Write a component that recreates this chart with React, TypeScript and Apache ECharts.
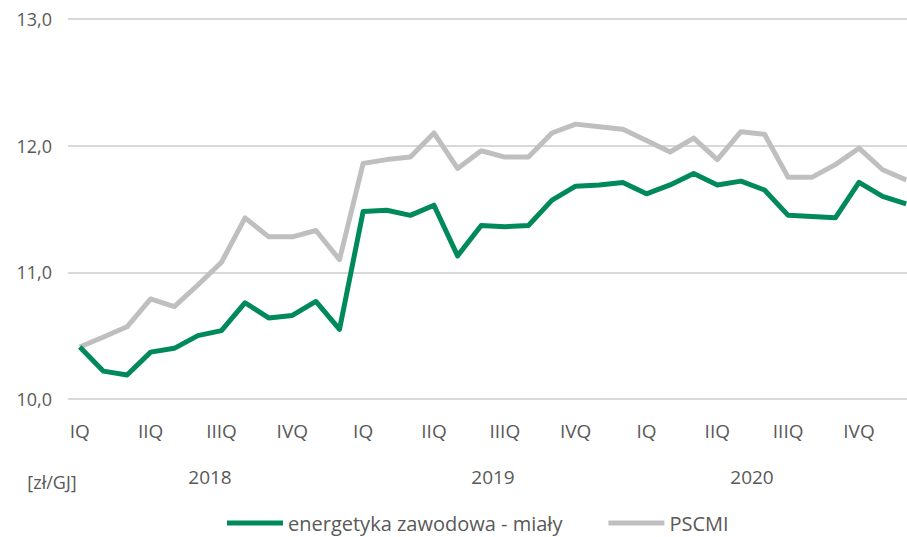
import React, { useEffect, useRef } from "react";
import * as echarts from "echarts";

const months: string[] = [
  "2018-01","2018-02","2018-03","2018-04","2018-05","2018-06","2018-07","2018-08","2018-09","2018-10","2018-11","2018-12",
  "2019-01","2019-02","2019-03","2019-04","2019-05","2019-06","2019-07","2019-08","2019-09","2019-10","2019-11","2019-12",
  "2020-01","2020-02","2020-03","2020-04","2020-05","2020-06","2020-07","2020-08","2020-09","2020-10","2020-11","2020-12",
];
const quarterLabels = ["IQ", "IIQ", "IIIQ", "IVQ"];
const years = ["2018", "2019", "2020"];

const energetyka: number[] = [
  10.41, 10.22, 10.19, 10.37, 10.40, 10.50, 10.54, 10.76, 10.64, 10.66, 10.77, 10.55,
  11.48, 11.49, 11.45, 11.53, 11.13, 11.37, 11.36, 11.37, 11.57, 11.68, 11.69, 11.71,
  11.62, 11.69, 11.78, 11.69, 11.72, 11.65, 11.45, 11.44, 11.43, 11.71, 11.60, 11.54,
];
const pscmi: number[] = [
  10.41, 10.49, 10.57, 10.79, 10.73, 10.90, 11.08, 11.43, 11.28, 11.28, 11.33, 11.10,
  11.86, 11.89, 11.91, 12.10, 11.82, 11.96, 11.91, 11.91, 12.10, 12.17, 12.15, 12.13,
  12.04, 11.95, 12.06, 11.89, 12.11, 12.09, 11.75, 11.75, 11.85, 11.98, 11.81, 11.73,
];

const FONT = "'Open Sans', sans-serif";
const TXT = "#595959";

export default function App() {
  const ref = useRef<HTMLDivElement>(null);
  useEffect(() => {
    if (!ref.current) return;
    const chart = echarts.init(ref.current, undefined, { renderer: "svg" });
    chart.setOption({
      animation: false,
      backgroundColor: "#ffffff",
      textStyle: { fontFamily: FONT },
      grid: { left: 68, top: 19, width: 850, bottom: 138, containLabel: false, outerBoundsMode: "none" },
      legend: {
        left: 222,
        top: 508,
        itemWidth: 56,
        itemHeight: 5,
        itemGap: 46,
        icon: "rect",
        textStyle: { fontFamily: FONT, fontSize: 20, color: TXT },
        data: ["energetyka zawodowa - miały", "PSCMI"],
      },
      xAxis: {
        type: "category",
        data: months,
        boundaryGap: true,
        axisLine: { show: false },
        axisTick: { show: false },
        axisLabel: {
          interval: 2,
          margin: 22,
          fontFamily: FONT,
          fontSize: 19,
          color: TXT,
          formatter: (_v: string, i: number) => quarterLabels[Math.floor(i / 3) % 4],
        },
      },
      yAxis: {
        type: "value",
        min: 10,
        max: 13,
        interval: 1,
        axisLine: { show: false },
        axisTick: { show: false },
        splitLine: { lineStyle: { color: "#D9D9D9", width: 2 } },
        axisLabel: {
          margin: 16,
          fontFamily: FONT,
          fontSize: 18,
          color: TXT,
          formatter: (v: number) => v.toFixed(1).replace(".", ","),
        },
      },
      graphic: [
        { type: "text", x: 210, y: 477, style: { text: years[0], font: `19px ${FONT}`, fill: TXT, textAlign: "center", textVerticalAlign: "middle" } },
        { type: "text", x: 493, y: 477, style: { text: years[1], font: `19px ${FONT}`, fill: TXT, textAlign: "center", textVerticalAlign: "middle" } },
        { type: "text", x: 752, y: 477, style: { text: years[2], font: `19px ${FONT}`, fill: TXT, textAlign: "center", textVerticalAlign: "middle" } },
        { type: "text", x: 52, y: 482, style: { text: "[zł/GJ]", font: `18px ${FONT}`, fill: TXT, textAlign: "center", textVerticalAlign: "middle" } },
      ],
      series: [
        {
          name: "PSCMI",
          type: "line",
          data: pscmi,
          showSymbol: false,
          symbol: "none",
          z: 2,
          lineStyle: { color: "#BFBFBF", width: 5, join: "round" },
          itemStyle: { color: "#BFBFBF" },
        },
        {
          name: "energetyka zawodowa - miały",
          type: "line",
          data: energetyka,
          showSymbol: false,
          symbol: "none",
          z: 3,
          lineStyle: { color: "#008A5A", width: 5, join: "round" },
          itemStyle: { color: "#008A5A" },
        },
      ],
    });
    return () => chart.dispose();
  }, []);
  return (
    <div
      ref={ref}
      style={{ position: "fixed", left: 0, top: 0, width: 907, height: 537, background: "#fff" }}
    />
  );
}
